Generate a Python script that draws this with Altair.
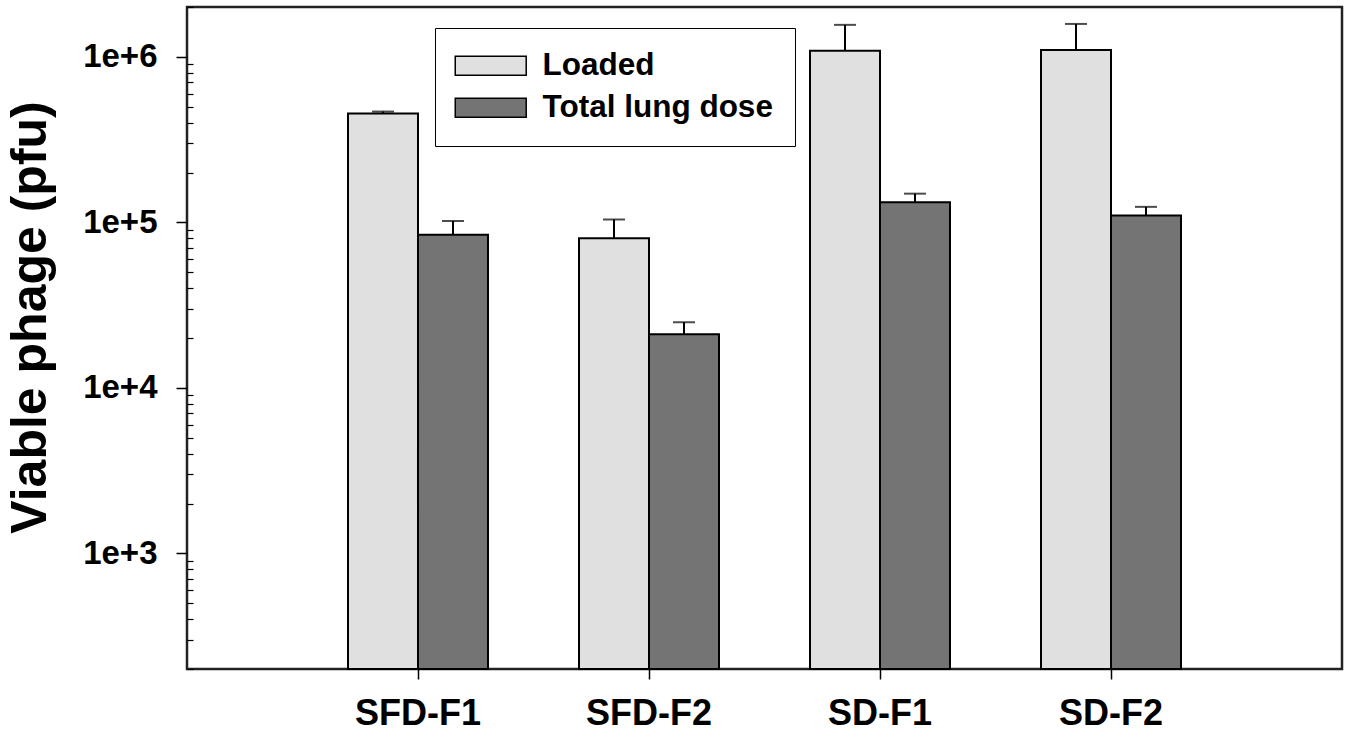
import altair as alt
import pandas as pd

categories = ["SFD-F1", "SFD-F2", "SD-F1", "SD-F2"]
series = ["Loaded", "Total lung dose"]
loaded = [4.54e5, 8.0e4, 1.09e6, 1.10e6]
loaded_upper = [4.67e5, 1.04e5, 1.56e6, 1.58e6]
lung = [8.42e4, 2.11e4, 1.32e5, 1.10e5]
lung_upper = [1.02e5, 2.49e4, 1.49e5, 1.24e5]
colors = ["#e0e0e0", "#747474"]
y_domain = [200, 2e6]
major_ticks = [1e3, 1e4, 1e5, 1e6]
minor_ticks = [m * 10 ** k for k in range(2, 7) for m in range(2, 10) if 200 <= m * 10 ** k <= 2e6]

rows = []
for i, c in enumerate(categories):
    rows.append({"cat": c, "series": series[0], "value": loaded[i], "upper": loaded_upper[i]})
    rows.append({"cat": c, "series": series[1], "value": lung[i], "upper": lung_upper[i]})
df = pd.DataFrame(rows)

FONT = "Liberation Sans"

xscale = alt.Scale(paddingInner=0.394, paddingOuter=0.697)
xoff = alt.XOffset("series:N", sort=series, scale=alt.Scale(paddingInner=0, paddingOuter=0))
yscale = alt.Scale(type="log", domain=y_domain)

x_axis = alt.Axis(labelAngle=0, labelFont=FONT, labelFontWeight="bold", labelFontSize=36,
                  labelColor="black", tickSize=10, tickColor="black", tickWidth=1.5,
                  labelPadding=17, domain=False, labelBaseline="top", labelAlign="center")

bars = alt.Chart(df).mark_bar(stroke="black", strokeWidth=2).encode(
    x=alt.X("cat:N", sort=categories, scale=xscale, title=None, axis=x_axis),
    xOffset=xoff,
    y=alt.Y("value:Q", scale=yscale, stack=None, title="Viable phage (pfu)",
            axis=alt.Axis(values=major_ticks, format=".0e", orient="left",
                          labelFont=FONT, labelFontWeight="bold", labelFontSize=33,
                          labelColor="black", tickSize=11, tickColor="black", tickWidth=1.5,
                          labelPadding=19, domain=False, grid=False,
                          titleFont=FONT, titleFontWeight="bold", titleFontSize=50,
                          titleColor="black", titleX=-157, titleY=310,
                          titleAlign="center", titleBaseline="middle", titleAngle=-90)),
    y2=alt.datum(y_domain[0]),
    color=alt.Color("series:N", sort=series,
                    scale=alt.Scale(domain=series, range=colors),
                    legend=alt.Legend(title=None, orient="none", legendX=248, legendY=21,
                                      symbolType="M-1,-1H6.47V1H-1Z", symbolSize=361,
                                      symbolStrokeColor="black", symbolStrokeWidth=1.5,
                                      symbolOffset=-8,
                                      labelFont=FONT, labelFontWeight="bold", labelFontSize=31.5,
                                      labelColor="black", labelOffset=62, labelLimit=500,
                                      rowPadding=9, padding=22, strokeColor="black",
                                      fillColor="white", cornerRadius=0)),
)

err_line = alt.Chart(df).mark_rule(color="black", strokeWidth=2).encode(
    x=alt.X("cat:N", sort=categories, scale=xscale, title=None, axis=x_axis),
    xOffset=xoff,
    y=alt.Y("value:Q", scale=yscale,
            axis=alt.Axis(values=minor_ticks, orient="left", labels=False, title=None,
                          tickSize=6, tickColor="black", tickWidth=1.2, offset=-6,
                          domain=False, grid=False)),
    y2="upper:Q",
)

err_cap = alt.Chart(df).mark_tick(color="black", thickness=2, size=22).encode(
    x=alt.X("cat:N", sort=categories, scale=xscale, title=None, axis=x_axis),
    xOffset=xoff,
    y=alt.Y("upper:Q", scale=yscale, axis=None),
)

chart = (
    alt.layer(bars, err_line, err_cap)
    .resolve_axis(y="independent")
    .properties(width=1155, height=662, autosize="none",
                padding={"left": 187, "top": 7, "right": 8, "bottom": 70},
                background="white")
    .configure_view(stroke="#222222", strokeWidth=2.5)
)

chart.save("out.html", embed_options={"renderer": "svg", "actions": False})
